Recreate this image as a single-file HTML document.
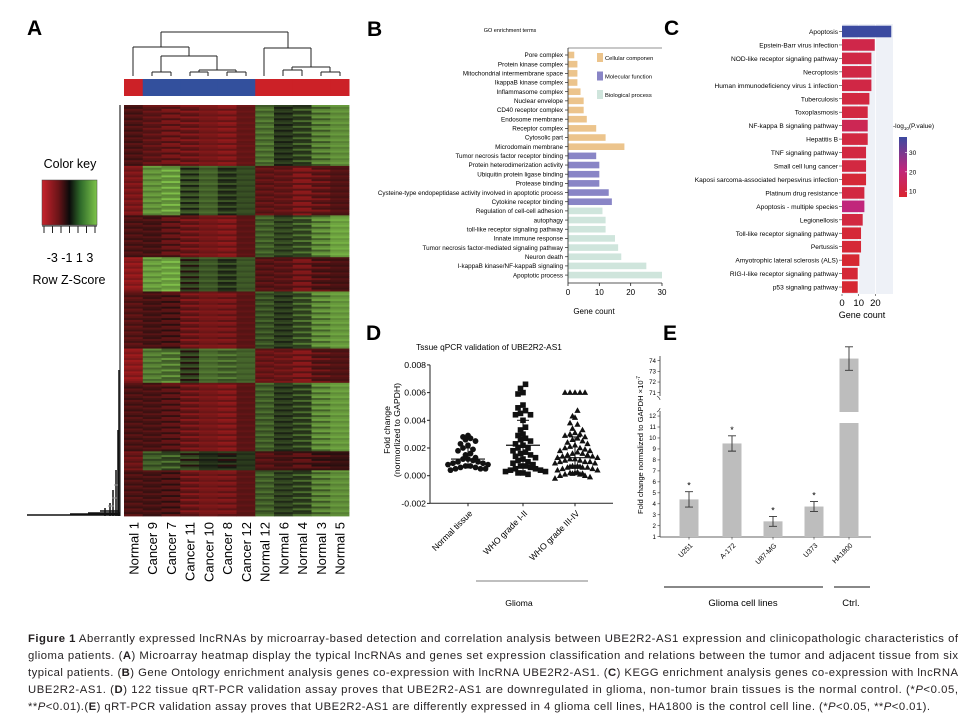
<!DOCTYPE html>
<html><head><meta charset="utf-8"><style>
html,body{margin:0;padding:0;background:#fff}
svg{display:block;font-family:"Liberation Sans",sans-serif}
</style></head><body>
<svg id="fig" width="973" height="721" viewBox="0 0 973 721" xmlns="http://www.w3.org/2000/svg">
<defs>
<linearGradient id="zkey" x1="0" x2="1" y1="0" y2="0">
<stop offset="0" stop-color="#c8232c"/><stop offset="0.3" stop-color="#6a1418"/><stop offset="0.5" stop-color="#0a0a0a"/><stop offset="0.7" stop-color="#2f6b2a"/><stop offset="1" stop-color="#7ec44a"/>
</linearGradient>
<linearGradient id="pkey" x1="0" x2="0" y1="0" y2="1">
<stop offset="0" stop-color="#3b4aa0"/><stop offset="0.55" stop-color="#c0267c"/><stop offset="1" stop-color="#d9252f"/>
</linearGradient>
</defs>
<g id="panelA"></g>
<g id="panelB"></g>
<g id="panelC"></g>
<g id="panelD"></g>
<g id="panelE"></g>
<g id="caption" font-size="11.3" fill="#231f20"></g>
</svg>
<script>
// ---------- DATA ----------
const heatCols = ["Normal 1","Cancer 9","Cancer 7","Cancer 11","Cancer 10","Cancer 8","Cancer 12","Normal 12","Normal 6","Normal 4","Normal 3","Normal 5"];
const heatGroup = ["N","C","C","C","C","C","C","N","N","N","N","N"];
const heatBlockRows = [32,26,22,18,30,18,36,10,24];
const heatBlockVals = [
 [-1,-1.5,-1.5,-1.8,-2,-2,-1.6,1.5,0.3,1,1.6,2],
 [-2,2,2.6,0.6,1.2,0.6,0.8,-1.4,-1.6,-1.8,-1.6,-1.2],
 [-1,-1,-1.2,-1.8,-2,-2,-1.4,1.2,0.6,1.2,1.8,2.4],
 [-2.4,2.2,2.8,0.4,1,0.6,1,-1.2,-1.4,-1.6,-1.2,-1],
 [-1.2,-1,-0.8,-1.8,-2,-1.8,-1.4,1,0.4,1.2,1.8,2.2],
 [-2.4,1.6,1.8,0.4,1.4,1.4,1.2,-1.6,-1.8,-1.8,-1.4,-1.2],
 [-1,-1.1,-1,-1.8,-2,-2,-1.4,1.2,0.4,1,1.8,2.2],
 [-1.6,1,1.2,0.4,0.2,0.2,0.4,-1.2,-1,-1,-0.8,-0.6],
 [-1,-1,-0.8,-1.8,-2,-1.8,-1.4,1.2,0.5,1,1.6,2]
];
const heatRowJitter = [0,0.35,-0.25,0.5,-0.45,0.15,-0.55,0.4,-0.15,0.25,-0.5,0.55,-0.1,0.3,-0.35,0.1,0.45,-0.2,-0.6,0.2,0.65];

const goTerms = ["Pore complex","Protein kinase complex","Mitochondrial intermembrane space","IkappaB kinase complex","Inflammasome complex","Nuclear envelope","CD40 receptor complex","Endosome membrane","Receptor complex","Cytosolic part","Microdomain membrane","Tumor necrosis factor receptor binding","Protein heterodimerization activity","Ubiquitin protein ligase binding","Protease binding","Cysteine-type endopeptidase activity involved in apoptotic process","Cytokine receptor binding","Regulation of cell-cell adhesion","autophagy","toll-like receptor signaling pathway","Innate immune response","Tumor necrosis factor-mediated signaling pathway","Neuron death","I-kappaB kinase/NF-kappaB signaling","Apoptotic process"];
const goCounts = [2,3,3,3,4,5,5,6,9,12,18,9,10,10,10,13,14,11,12,12,15,16,17,25,30];
const goCats = [0,0,0,0,0,0,0,0,0,0,0,1,1,1,1,1,1,2,2,2,2,2,2,2,2];
const goCatNames = ["Cellular componen","Molecular function","Biological process"];
const goTicks = [0,10,20,30];

const keggTerms = ["Apoptosis","Epstein-Barr virus infection","NOD-like receptor signaling pathway","Necroptosis","Human immunodeficiency virus 1 infection","Tuberculosis","Toxoplasmosis","NF-kappa B signaling pathway","Hepatitis B","TNF signaling pathway","Small cell lung cancer","Kaposi sarcoma-associated herpesvirus infection","Platinum drug resistance","Apoptosis - multiple species","Legionellosis","Toll-like receptor signaling pathway","Pertussis","Amyotrophic lateral sclerosis (ALS)","RIG-I-like receptor signaling pathway","p53 signaling pathway"];
const keggCounts = [29.5,19.6,17.6,17.6,17.6,16.4,15.4,15.4,15.4,14.4,14.4,14.4,13.4,13.4,12.4,11.4,11.4,10.4,9.4,9.4];
const keggLogP = [38,12,11,11,11,10,10,14,10,10,10,8,10,22,10,8,8,7,8,7];
const keggTicks = [0,10,20];
const keggPTicks = [10,20,30];

const qpcrGroups = ["Normal tissue","WHO grade I-II","WHO grade III-IV"];
const qpcrNormal = [0.0029,0.0028,0.0027,0.0026,0.0025,0.0023,0.0022,0.002,0.0019,0.0018,0.0016,0.0015,0.0013,0.0012,0.0012,0.0011,0.001,0.001,0.0009,0.0009,0.0008,0.0008,0.0007,0.0007,0.0006,0.0006,0.0005,0.0005,0.0005,0.0004];
const qpcrLow = [0.0066,0.0063,0.006,0.0059,0.0051,0.0049,0.0047,0.0045,0.0044,0.0044,0.004,0.0035,0.0033,0.003,0.0029,0.0027,0.0026,0.0025,0.0023,0.0022,0.002,0.002,0.0018,0.0017,0.0016,0.0015,0.0014,0.0013,0.0012,0.0011,0.001,0.0009,0.0008,0.0007,0.0007,0.0006,0.0005,0.0005,0.0004,0.0004,0.0003,0.0003,0.0002,0.0002,0.0001];
const qpcrHigh = [0.006,0.006,0.006,0.006,0.006,0.0047,0.0043,0.0042,0.0038,0.0037,0.0034,0.0033,0.0031,0.003,0.003,0.0029,0.0028,0.0027,0.0026,0.0025,0.0024,0.0023,0.0022,0.0021,0.002,0.002,0.0019,0.0018,0.0018,0.0017,0.0016,0.0016,0.0015,0.0015,0.0014,0.0014,0.0013,0.0013,0.0012,0.0012,0.0011,0.0011,0.001,0.001,0.001,0.0009,0.0009,0.0008,0.0008,0.0008,0.0007,0.0007,0.0006,0.0006,0.0006,0.0005,0.0005,0.0004,0.0004,0.0004,0.0003,0.0003,0.0002,0.0002,0.0001,0.0001,0,0,-0.0001,-0.0002];
const qpcrMedian = [0.0012,0.0022,0.0013];
const qpcrUpper = [0.002,0.004,0.0028];
const qpcrLower = [0.0005,0.0004,0.0002];
const qpcrTicks = [0.008,0.006,0.004,0.002,0,-0.002];

const cellLines = ["U251","A-172","U87-MG","U373","HA1800"];
const cellMeans = [4.4,9.5,2.4,3.75,74.2];
const cellErr = [0.7,0.7,0.45,0.45,1.1];
const cellSig = ["*","*","*","*",""];
const cellLowTicks = [1,2,3,4,5,6,7,8,9,10,11,12];
const cellHighTicks = [71,72,73,74];

// ---------- HELPERS ----------
const NS="http://www.w3.org/2000/svg";
function mk(parent,tag,attrs,text){const e=document.createElementNS(NS,tag);for(const k in attrs)e.setAttribute(k,attrs[k]);if(text!==undefined)e.textContent=text;parent.appendChild(e);return e;}
function heatColor(z){z=Math.max(-3,Math.min(3,z));
 if(z<0){const t=-z/3;return `rgb(${Math.round(30+t*140)},${Math.round(14+t*14)},${Math.round(14+t*16)})`;}
 const t=z/3;return `rgb(${Math.round(22+t*105)},${Math.round(26+t*165)},${Math.round(18+t*55)})`;}

// ---------- PANEL A ----------
(function(){
 const g=document.getElementById('panelA');
 let t=mk(g,'text',{x:27,y:35,'font-size':21,'font-weight':'bold'},'A');
 
 const x0=124,x1=349,y0=105,y1=516,cw=(x1-x0)/heatCols.length;
 const cx=i=>x0+cw*(i+0.5);
 heatGroup.forEach((gr,i)=>{const r=mk(g,'rect',{x:x0+cw*i,y:79,width:cw+0.5,height:17,fill:gr==="C"?"#33509d":"#cc2127"});
  });
 const total=heatBlockRows.reduce((a,b)=>a+b,0);const rh=(y1-y0)/total;let row=0;
 const hm=mk(g,'g',{});
 heatBlockRows.forEach((n,b)=>{for(let r=0;r<n;r++){heatCols.forEach((c,i)=>{
   const j=heatRowJitter[(row*7+i*2)%heatRowJitter.length];
   const z=heatBlockVals[b][i]+j;
   const cell=mk(hm,'rect',{x:(x0+cw*i).toFixed(2),y:(y0+row*rh).toFixed(2),width:(cw+0.4).toFixed(2),height:(rh+0.4).toFixed(2),fill:heatColor(z)});
   });row++;}});
 heatCols.forEach((c,i)=>{const l=mk(g,'text',{transform:`translate(${cx(i)+5},522) rotate(-90)`,'font-size':13,'text-anchor':'end'},c);
  });
 const dg=mk(g,'g',{stroke:'#222','stroke-width':1,fill:'none'});
 const segs=[[161,32,288,32],[161,32,161,47],[288,32,288,48],[133,47,189,47],[133,47,133,76],[189,47,189,56],[161,56,217,56],[161,56,161,72],[152,72,171,72],[152,72,152,76],[171,72,171,76],[217,56,217,70],[199,70,236,70],[199,70,199,72],[190,72,208,72],[190,72,190,76],[208,72,208,76],[236,70,236,72],[227,72,246,72],[227,72,227,76],[246,72,246,76],
  [264,48,311,48],[264,48,264,76],[311,48,311,67],[292,67,330,67],[292,67,292,70],[283,70,302,70],[283,70,283,76],[302,70,302,76],[330,67,330,72],[321,72,340,72],[321,72,321,76],[340,72,340,76]];
 segs.forEach(s=>mk(dg,'line',{x1:s[0],y1:s[1],x2:s[2],y2:s[3]}));
 const rg=mk(g,'g',{stroke:'#111',fill:'none'});
 mk(rg,'line',{x1:120,y1:105,x2:120,y2:516,'stroke-width':1.5,stroke:'#555'});
 mk(rg,'path',{d:'M27 515 H120 M70 514 H120 M88 513 H120 M100 511 H118 M105 508 V516 M110 503 V516 M113 490 V516 M116 470 V516 M118 430 V516 M119 370 V516','stroke-width':1.5});
 mk(rg,'path',{d:'M108 506 H114 M112 498 H117 M114 485 H118','stroke-width':1,stroke:'#999'});
 const kg=mk(g,'g',{});
 mk(kg,'text',{x:70,y:168,'font-size':12.5,'text-anchor':'middle'},'Color key');
 mk(kg,'rect',{x:42,y:180,width:55,height:45,fill:'url(#zkey)',stroke:'#444','stroke-width':0.5});
 for(let i=0;i<7;i++){mk(kg,'line',{x1:44+i*8.5,y1:226,x2:44+i*8.5,y2:233,stroke:'#222'});}
 mk(kg,'line',{x1:42,y1:226,x2:97,y2:226,stroke:'#222'});
 mk(kg,'text',{x:70,y:262,'font-size':12.5,'text-anchor':'middle'},'-3 -1  1  3');
 mk(kg,'text',{x:69,y:284,'font-size':12.5,'text-anchor':'middle'},'Row Z-Score');
})();

// ---------- PANEL B ----------
(function(){
 const g=document.getElementById('panelB');
 let t=mk(g,'text',{x:367,y:36,'font-size':21,'font-weight':'bold'},'B');
 mk(g,'text',{x:510,y:32,'font-size':5.5,'text-anchor':'middle'},'GO enrichment terms');
 const xs=v=>568+v*(94/30), yTop=48, step=9.17, y=i=>55+i*step;
 const colors=["#ecc48c","#8985c6","#cfe5dc"];
 goCounts.forEach((v,i)=>{const r=mk(g,'rect',{x:xs(0),y:y(i)-3.3,width:xs(v)-xs(0),height:6.6,fill:colors[goCats[i]]});
  
  mk(g,'text',{x:563,y:y(i)+2.2,'font-size':6.3,'text-anchor':'end'},goTerms[i]);
  mk(g,'line',{x1:565,x2:568,y1:y(i),y2:y(i),stroke:'#222','stroke-width':0.7});});
 mk(g,'line',{x1:568,x2:568,y1:yTop,y2:283,stroke:'#222','stroke-width':0.8});
 mk(g,'line',{x1:568,x2:662,y1:283,y2:283,stroke:'#222','stroke-width':0.8});
 mk(g,'line',{x1:568,x2:662,y1:48,y2:48,stroke:'#222','stroke-width':0.5});
 goTicks.forEach(v=>{mk(g,'line',{x1:xs(v),x2:xs(v),y1:283,y2:286,stroke:'#222','stroke-width':0.8});
  mk(g,'text',{x:xs(v),y:295,'font-size':8,'text-anchor':'middle'},v);});
 t=mk(g,'text',{x:594,y:314,'font-size':8,'text-anchor':'middle'},'Gene count');
 goCatNames.forEach((n,i)=>{const le=mk(g,'g',{});
  mk(le,'rect',{x:597,y:53+i*18.5,width:6,height:9,fill:colors[i]});
  mk(le,'text',{x:605,y:60+i*18.5,'font-size':5.8},n);});
})();

// ---------- PANEL C ----------
(function(){
 const g=document.getElementById('panelC');
 let t=mk(g,'text',{x:664,y:35,'font-size':21,'font-weight':'bold'},'C');
 const xs=v=>842+v*1.67, step=13.45, y=i=>31.5+i*step;
 mk(g,'rect',{x:842,y:24,width:51,height:270,fill:'#eef1f7'});
 [0,10,20].forEach(v=>mk(g,'line',{x1:xs(v),x2:xs(v),y1:24,y2:294,stroke:'#fff','stroke-width':0.8}));
 function pcol(p){const t=Math.max(0,Math.min(1,(p-7)/31));
  if(t<0.5){const u=t/0.5;return `rgb(${Math.round(214-u*22)},${Math.round(40-u*2)},${Math.round(50+u*75)})`;}
  const u=(t-0.5)/0.5;return `rgb(${Math.round(192-u*133)},${Math.round(38+u*36)},${Math.round(125+u*35)})`;}
 keggCounts.forEach((v,i)=>{const r=mk(g,'rect',{x:xs(0),y:y(i)-5.8,width:xs(v)-xs(0),height:11.6,fill:pcol(keggLogP[i])});
  
  mk(g,'text',{x:838,y:y(i)+2.5,'font-size':6.6,'text-anchor':'end'},keggTerms[i]);
  mk(g,'line',{x1:839,x2:842,y1:y(i),y2:y(i),stroke:'#333','stroke-width':0.6});});
 keggTicks.forEach(v=>{mk(g,'line',{x1:xs(v),x2:xs(v),y1:294,y2:296,stroke:'#333','stroke-width':0.6});
  mk(g,'text',{x:xs(v),y:306,'font-size':9.5,'text-anchor':'middle'},v);});
 t=mk(g,'text',{x:862,y:318,'font-size':9,'text-anchor':'middle'},'Gene count');
 const lg=mk(g,'g',{});
 const tl=mk(lg,'text',{x:893,y:128,'font-size':6.5});tl.innerHTML='-log<tspan font-size="4.5" dy="2">10</tspan><tspan dy="-2">(P.value)</tspan>';
 mk(lg,'rect',{x:899,y:137,width:8,height:60,fill:'url(#pkey)'});
 const py=p=>197-(p-7)*(60/31);
 keggPTicks.forEach(p=>{mk(lg,'line',{x1:905,x2:907,y1:py(p),y2:py(p),stroke:'#fff','stroke-width':0.6});
  mk(lg,'text',{x:909,y:py(p)+2.5,'font-size':6.5},p);});
})();

// ---------- PANEL D ----------
(function(){
 const g=document.getElementById('panelD');
 let t=mk(g,'text',{x:366,y:340,'font-size':21,'font-weight':'bold'},'D');
 mk(g,'text',{x:489,y:350,'font-size':8.3,'text-anchor':'middle'},'Tssue qPCR validation of UBE2R2-AS1');
 const ys=v=>475.7-v*(27.7/0.002), ax=430, xr=613, yb=503.3;
 const cxs=[468,523,575];
 mk(g,'line',{x1:ax,x2:ax,y1:ys(0.008),y2:yb,stroke:'#222','stroke-width':1});
 mk(g,'line',{x1:ax,x2:xr,y1:yb,y2:yb,stroke:'#222','stroke-width':1});
 qpcrTicks.forEach(v=>{mk(g,'line',{x1:ax-3,x2:ax,y1:ys(v),y2:ys(v),stroke:'#222'});
  mk(g,'text',{x:ax-4,y:ys(v)+3,'font-size':8.7,'text-anchor':'end'},v.toFixed(3));});
 t=mk(g,'text',{transform:'translate(390,430) rotate(-90)','font-size':8.7,'text-anchor':'middle'},'Fold change');
 mk(g,'text',{transform:'translate(400,430) rotate(-90)','font-size':8.7,'text-anchor':'middle'},'(normorlized to GAPDH)');
 const sets=[qpcrNormal,qpcrLow,qpcrHigh];
 sets.forEach((vals,gi)=>{const cnt={};const pg=mk(g,'g',{fill:'#111'});
  
  vals.forEach(v=>{const bin=Math.round(v/0.0005);cnt[bin]=(cnt[bin]||0)+1;const k=(cnt[bin]-1)%9;
   const off=(k%2===0?1:-1)*Math.ceil(k/2)*5+((bin%2)?2.5:0);const x=cxs[gi]+off,y=ys(v)+((cnt[bin]-1)>=9?2:0);let m;
   if(gi===0)m=mk(pg,'circle',{cx:x,cy:y,r:2.9});
   else if(gi===1)m=mk(pg,'rect',{x:x-2.8,y:y-2.8,width:5.6,height:5.6});
   else m=mk(pg,'path',{d:`M${x} ${y-3.3}L${x+3.1} ${y+2.3}L${x-3.1} ${y+2.3}Z`});
   });
  mk(g,'line',{x1:cxs[gi]-17,x2:cxs[gi]+17,y1:ys(qpcrMedian[gi]),y2:ys(qpcrMedian[gi]),stroke:'#111','stroke-width':1.2});
  mk(g,'line',{x1:cxs[gi],x2:cxs[gi],y1:ys(qpcrUpper[gi]),y2:ys(qpcrLower[gi]),stroke:'#111','stroke-width':1});
  mk(g,'line',{x1:cxs[gi]-6,x2:cxs[gi]+6,y1:ys(qpcrUpper[gi]),y2:ys(qpcrUpper[gi]),stroke:'#111','stroke-width':1});
  mk(g,'line',{x1:cxs[gi],x2:cxs[gi],y1:yb,y2:yb+3,stroke:'#222'});
  const l=mk(g,'text',{transform:`translate(${cxs[gi]+5},514) rotate(-45)`,'font-size':8.7,'text-anchor':'end'},qpcrGroups[gi]);
  });
 mk(g,'line',{x1:476,x2:588,y1:581,y2:581,stroke:'#aaa','stroke-width':1.5});
 mk(g,'text',{x:519,y:606,'font-size':8.7,'text-anchor':'middle'},'Glioma');
})();

// ---------- PANEL E ----------
(function(){
 const g=document.getElementById('panelE');
 let t=mk(g,'text',{x:663,y:340,'font-size':21,'font-weight':'bold'},'E');
 const ax=660, yb=537;
 const yLo=v=>536.7-(v-1)*10.97, yHi=v=>392.7-(v-71)*10.67;
 const ys=v=>v<=12.5?yLo(v):yHi(v);
 const cxs=[689,732,773,814,849];
 mk(g,'path',{d:`M${ax} ${yb} V411 M${ax} 396 V356`,stroke:'#333','stroke-width':0.8,fill:'none'});
 mk(g,'path',{d:`M${ax-3} 412 q3 -2 3 -4 M${ax-3} 396 q3 2 3 4`,stroke:'#333','stroke-width':0.7,fill:'none'});
 mk(g,'line',{x1:ax,x2:871,y1:yb,y2:yb,stroke:'#333','stroke-width':0.8});
 cellLowTicks.forEach(v=>{mk(g,'line',{x1:ax-2.5,x2:ax,y1:yLo(v),y2:yLo(v),stroke:'#333','stroke-width':0.6});
  mk(g,'text',{x:ax-4,y:yLo(v)+2.2,'font-size':6.2,'text-anchor':'end'},v);});
 cellHighTicks.forEach(v=>{mk(g,'line',{x1:ax-2.5,x2:ax,y1:yHi(v),y2:yHi(v),stroke:'#333','stroke-width':0.6});
  mk(g,'text',{x:ax-4,y:yHi(v)+2.2,'font-size':6.2,'text-anchor':'end'},v);});
 t=mk(g,'text',{transform:'translate(643,445) rotate(-90)','font-size':7.6,'text-anchor':'middle'});
 t.innerHTML='Fold change normalized to GAPDH ×10<tspan font-size="5" dy="-3">-7</tspan>';
 
 cellMeans.forEach((v,i)=>{const b=mk(g,'rect',{x:cxs[i]-9.5,y:ys(v),width:19,height:yb-ys(v),fill:'#bdbdbd'});
  
  const hi=ys(v+cellErr[i]),lo=ys(v-cellErr[i]);
  mk(g,'path',{d:`M${cxs[i]} ${hi}V${lo}M${cxs[i]-4} ${hi}H${cxs[i]+4}M${cxs[i]-4} ${lo}H${cxs[i]+4}`,stroke:'#333','stroke-width':0.9,fill:'none'});
  if(cellSig[i])mk(g,'text',{x:cxs[i],y:hi-3,'font-size':9,'text-anchor':'middle'},cellSig[i]);
  mk(g,'line',{x1:cxs[i],x2:cxs[i],y1:yb,y2:yb+2.5,stroke:'#333','stroke-width':0.6});
  const l=mk(g,'text',{transform:`translate(${cxs[i]+4},546) rotate(-45)`,'font-size':7,'text-anchor':'end'},cellLines[i]);
  });
 mk(g,'rect',{x:835,y:412,width:30,height:11,fill:'#fff'});
 mk(g,'line',{x1:664,x2:823,y1:587,y2:587,stroke:'#777','stroke-width':1.8});
 mk(g,'line',{x1:834,x2:870,y1:587,y2:587,stroke:'#777','stroke-width':1.8});
 mk(g,'text',{x:743,y:606,'font-size':9.5,'text-anchor':'middle'},'Glioma cell lines');
 mk(g,'text',{x:851,y:606,'font-size':9.5,'text-anchor':'middle'},'Ctrl.');
})();

// ---------- CAPTION ----------
(function(){
 const g=document.getElementById('caption');
 const lines=[
  ['<tspan font-weight="bold">Figure 1</tspan> Aberrantly expressed lncRNAs by microarray-based detection and correlation analysis between UBE2R2-AS1 expression and clinicopathologic characteristics of',true],
  ['glioma patients. (<tspan font-weight="bold">A</tspan>) Microarray heatmap display the typical lncRNAs and genes set expression classification and relations between the tumor and adjacent tissue from six',true],
  ['typical patients. (<tspan font-weight="bold">B</tspan>) Gene Ontology enrichment analysis genes co-expression with lncRNA UBE2R2-AS1. (<tspan font-weight="bold">C</tspan>) KEGG enrichment analysis genes co-expression with lncRNA',true],
  ['UBE2R2-AS1. (<tspan font-weight="bold">D</tspan>) 122 tissue qRT-PCR validation assay proves that UBE2R2-AS1 are downregulated in glioma, non-tumor brain tissues is the normal control. (*<tspan font-style="italic">P</tspan>&lt;0.05,',true],
  ['**<tspan font-style="italic">P</tspan>&lt;0.01).(<tspan font-weight="bold">E</tspan>) qRT-PCR validation assay proves that UBE2R2-AS1 are differently expressed in 4 glioma cell lines, HA1800 is the control cell line. (*<tspan font-style="italic">P</tspan>&lt;0.05, **<tspan font-style="italic">P</tspan>&lt;0.01).',false]];
 lines.forEach((l,i)=>{const t=mk(g,'text',{x:28,y:642+i*17});t.innerHTML=l[0];
  
  t.setAttribute('textLength',l[1]?930:902);t.setAttribute('lengthAdjust','spacing');});
})();
</script>
</body></html>
